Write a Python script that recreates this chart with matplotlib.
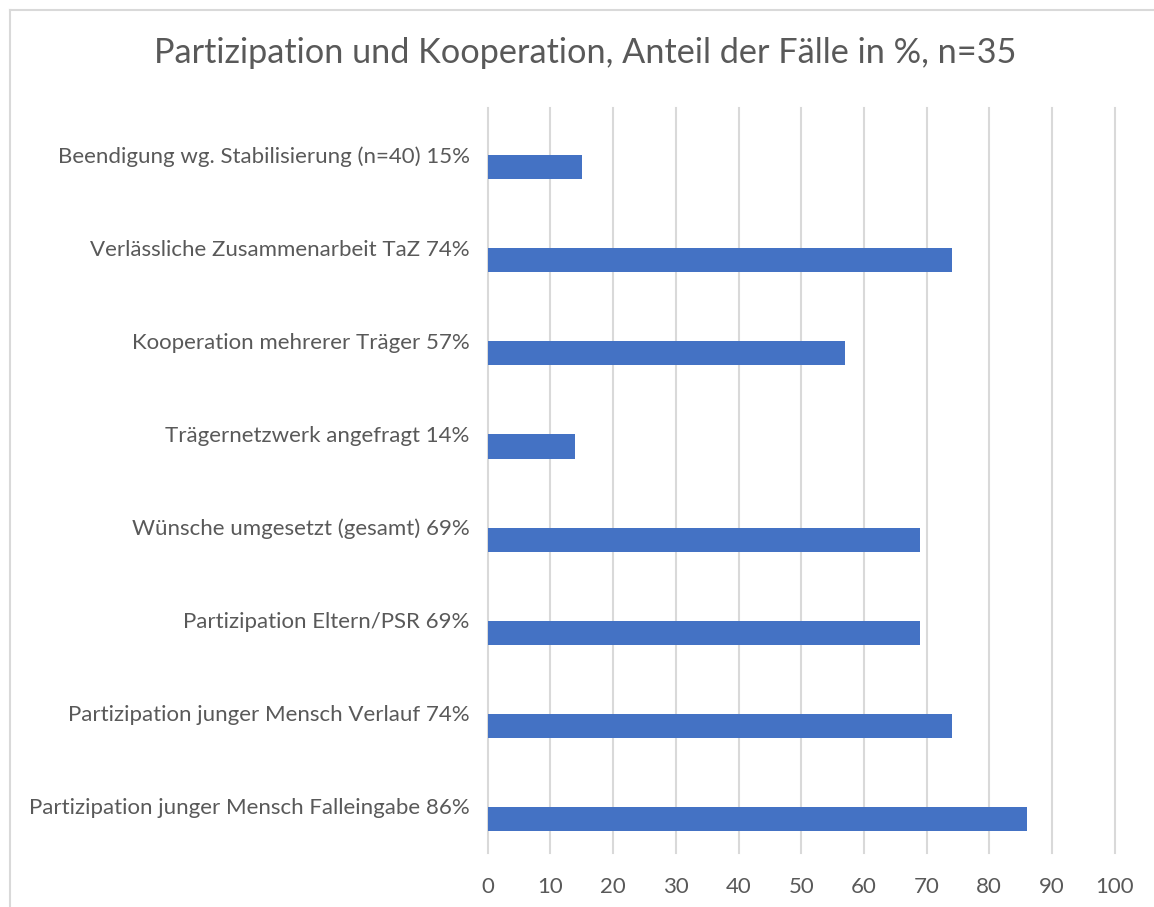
import matplotlib.pyplot as plt
from matplotlib.lines import Line2D

# categories top to bottom
labels = ['Beendigung wg. Stabilisierung (n=40) 15%',
          'Verlässliche Zusammenarbeit TaZ 74%',
          'Kooperation mehrerer Träger 57%',
          'Trägernetzwerk angefragt 14%',
          'Wünsche umgesetzt (gesamt) 69%',
          'Partizipation Eltern/PSR 69%',
          'Partizipation junger Mensch Verlauf 74%',
          'Partizipation junger Mensch Falleingabe 86%']
values = [15, 74, 57, 14, 69, 69, 74, 86]
xticks = list(range(0, 101, 10))

title = 'Partizipation und Kooperation, Anteil der Fälle in %, n=35'

txt = '#595959'
grid = '#D9D9D9'
bar_col = '#4472C4'

plt.rcParams['font.family'] = ['Lato', 'DejaVu Sans']

fig = plt.figure(figsize=(11.54, 9.07), dpi=100)
ax = fig.add_axes([487.7/1154, 1-853/907, (1114.7-487.7)/1154, (853-108)/907])

pos = list(range(len(labels)))
# bars sit a bit below the category centre, like the Excel original
ax.barh([p + 0.135 for p in pos], values, height=0.26, color=bar_col, zorder=3)

ax.set_xlim(0, 100)
ax.set_ylim(len(labels) - 0.5, -0.5)
ax.set_xticks(xticks)
ax.set_yticks(pos)
ax.set_yticklabels(labels)
ax.tick_params(axis='both', length=0, labelsize=16, colors=txt)
ax.tick_params(axis='x', pad=17)
ax.tick_params(axis='y', pad=13)

ax.grid(axis='x', color=grid, linewidth=1.5, zorder=0)
for l in ax.get_xgridlines():
    l.set_clip_on(False)
for s in ax.spines.values():
    s.set_visible(False)

fig.text(585/1154, 1-53/907, title, ha='center', va='center', fontsize=24.7, color=txt)

# chart area border (only top and left visible)
fig.add_artist(Line2D([10/1154, 1], [1-10/907]*2, color=grid, linewidth=1.5))
fig.add_artist(Line2D([10/1154]*2, [0, 1-10/907], color=grid, linewidth=1.5))

fig.savefig('out.png', dpi=100, facecolor='white')
